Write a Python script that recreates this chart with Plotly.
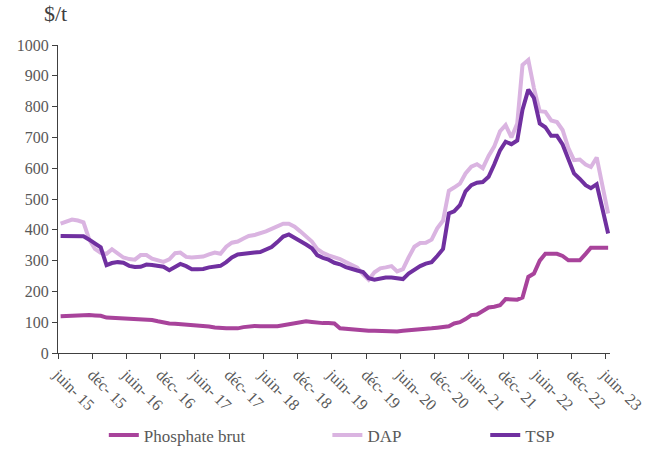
import pandas as pd
import plotly.graph_objects as go

# Monthly observations, juin-2015 .. juin-2023 (97 months), $/t
months = pd.date_range("2015-06-01", periods=97, freq="MS") + pd.Timedelta(days=14)

phosphate_brut = [
    119, 120, 122, 123, 123, 123, 122, 121, 115, 114, 114, 111,   # juin-15 .. mai-16
    111, 110, 109, 108, 107, 103, 98, 96, 95, 94, 92, 90,        # juin-16 .. mai-17
    89, 89, 86, 83, 80, 80, 80, 80, 84, 86, 88, 87,              # juin-17 .. mai-18
    86, 86, 87, 90, 93, 96, 101, 103, 101, 98, 97, 97,           # juin-18 .. mai-19
    96, 80, 78, 76, 75, 74, 72, 72, 71, 71, 69, 70,              # juin-19 .. mai-20
    72, 73, 74, 76, 78, 80, 82, 84, 87, 96, 100, 110,            # juin-20 .. mai-21
    123, 125, 135, 148, 150, 155, 175, 173, 173, 180, 247, 258,  # juin-21 .. mai-22
    300, 322, 322, 322, 315, 301, 301, 301, 322, 342, 342, 342,  # juin-22 .. mai-23
    342,                                                        # juin-23
]

dap = [
    420, 428, 433, 430, 424, 368, 338, 325, 322, 337, 325, 310,
    305, 303, 318, 318, 306, 300, 296, 304, 324, 326, 312, 310,
    311, 313, 320, 326, 322, 345, 358, 362, 372, 380, 383, 388,
    395, 403, 410, 420, 420, 410, 395, 380, 362, 338, 325, 317,
    312, 305, 295, 285, 277, 255, 238, 262, 275, 278, 282, 265,
    272, 310, 345, 357, 358, 368, 405, 430, 527, 537, 550, 583,
    605, 613, 600, 640, 670, 720, 740, 700, 745, 935, 951, 860,
    785, 783, 755, 750, 724, 665, 626, 628, 612, 604, 635, 545,
    453,
]

tsp = [
    380, 380, 379, 379, 379, 368, 355, 343, 285, 292, 295, 293,
    283, 279, 280, 287, 286, 283, 280, 269, 280, 289, 282, 272,
    272, 273, 278, 281, 283, 295, 310, 320, 321, 324, 326, 328,
    335, 344, 360, 378, 385, 375, 365, 352, 340, 318, 309, 303,
    293, 288, 279, 272, 268, 263, 243, 238, 243, 245, 245, 244,
    240, 258, 272, 282, 290, 295, 315, 338, 453, 460, 480, 525,
    545, 553, 555, 572, 612, 658, 686, 678, 690, 790, 855, 828,
    745, 733, 705, 705, 677, 625, 583, 565, 545, 535, 548, 470,
    388,
]

tick_dates = pd.date_range("2015-06-01", "2023-06-01", freq="6MS")
tick_labels = ["juin- 15", "déc- 15", "juin- 16", "déc- 16", "juin- 17", "déc- 17",
               "juin- 18", "déc- 18", "juin- 19", "déc- 19", "juin- 20", "déc- 20",
               "juin- 21", "déc- 21", "juin- 22", "déc- 22", "juin- 23"]

FONT = "Times New Roman, Liberation Serif, DejaVu Serif, serif"
GREY = "#595959"

fig = go.Figure()
fig.add_trace(go.Scatter(x=months, y=phosphate_brut, mode="lines", name="Phosphate brut",
                         line=dict(color="#A8439B", width=4), legend="legend"))
fig.add_trace(go.Scatter(x=months, y=dap, mode="lines", name="DAP",
                         line=dict(color="#DAB4E1", width=4), legend="legend2"))
fig.add_trace(go.Scatter(x=months, y=tsp, mode="lines", name="TSP",
                         line=dict(color="#7030A0", width=4), legend="legend3"))

leg_common = dict(orientation="h", yanchor="middle", y=-0.268, xanchor="left",
                  font=dict(family=FONT, size=17, color=GREY), bgcolor="rgba(0,0,0,0)",
                  itemwidth=30, visible=True)

fig.update_layout(
    width=646, height=460,
    showlegend=True,
    margin=dict(l=58, r=36, t=45, b=107, autoexpand=False),
    paper_bgcolor="white", plot_bgcolor="white",
    font=dict(family=FONT, size=16, color=GREY),
    legend=dict(x=0.083, **leg_common),
    legend2=dict(x=0.488, **leg_common),
    legend3=dict(x=0.774, **leg_common),
    xaxis=dict(
        type="date", automargin=False,
        range=["2015-06-01", "2023-06-25"],
        tickmode="array", tickvals=tick_dates, ticktext=tick_labels,
        tickangle=45, ticks="outside", ticklen=5, tickcolor="#404040",
        showline=True, linecolor="#404040", linewidth=1.2,
        showgrid=False, zeroline=False,
        tickfont=dict(family=FONT, size=16, color=GREY),
    ),
    yaxis=dict(
        automargin=False,
        range=[0, 1000], dtick=100, tick0=0,
        ticks="outside", ticklen=5, tickcolor="#404040",
        showline=True, linecolor="#404040", linewidth=1.2,
        showgrid=False, zeroline=False,
        tickfont=dict(family=FONT, size=16, color=GREY),
    ),
    annotations=[dict(text="$/t", xref="paper", yref="paper", x=-0.005, y=1.055,
                      xanchor="center", yanchor="bottom", showarrow=False,
                      font=dict(family=FONT, size=22, color="#404040"))],
)

fig.write_html("out.html")
